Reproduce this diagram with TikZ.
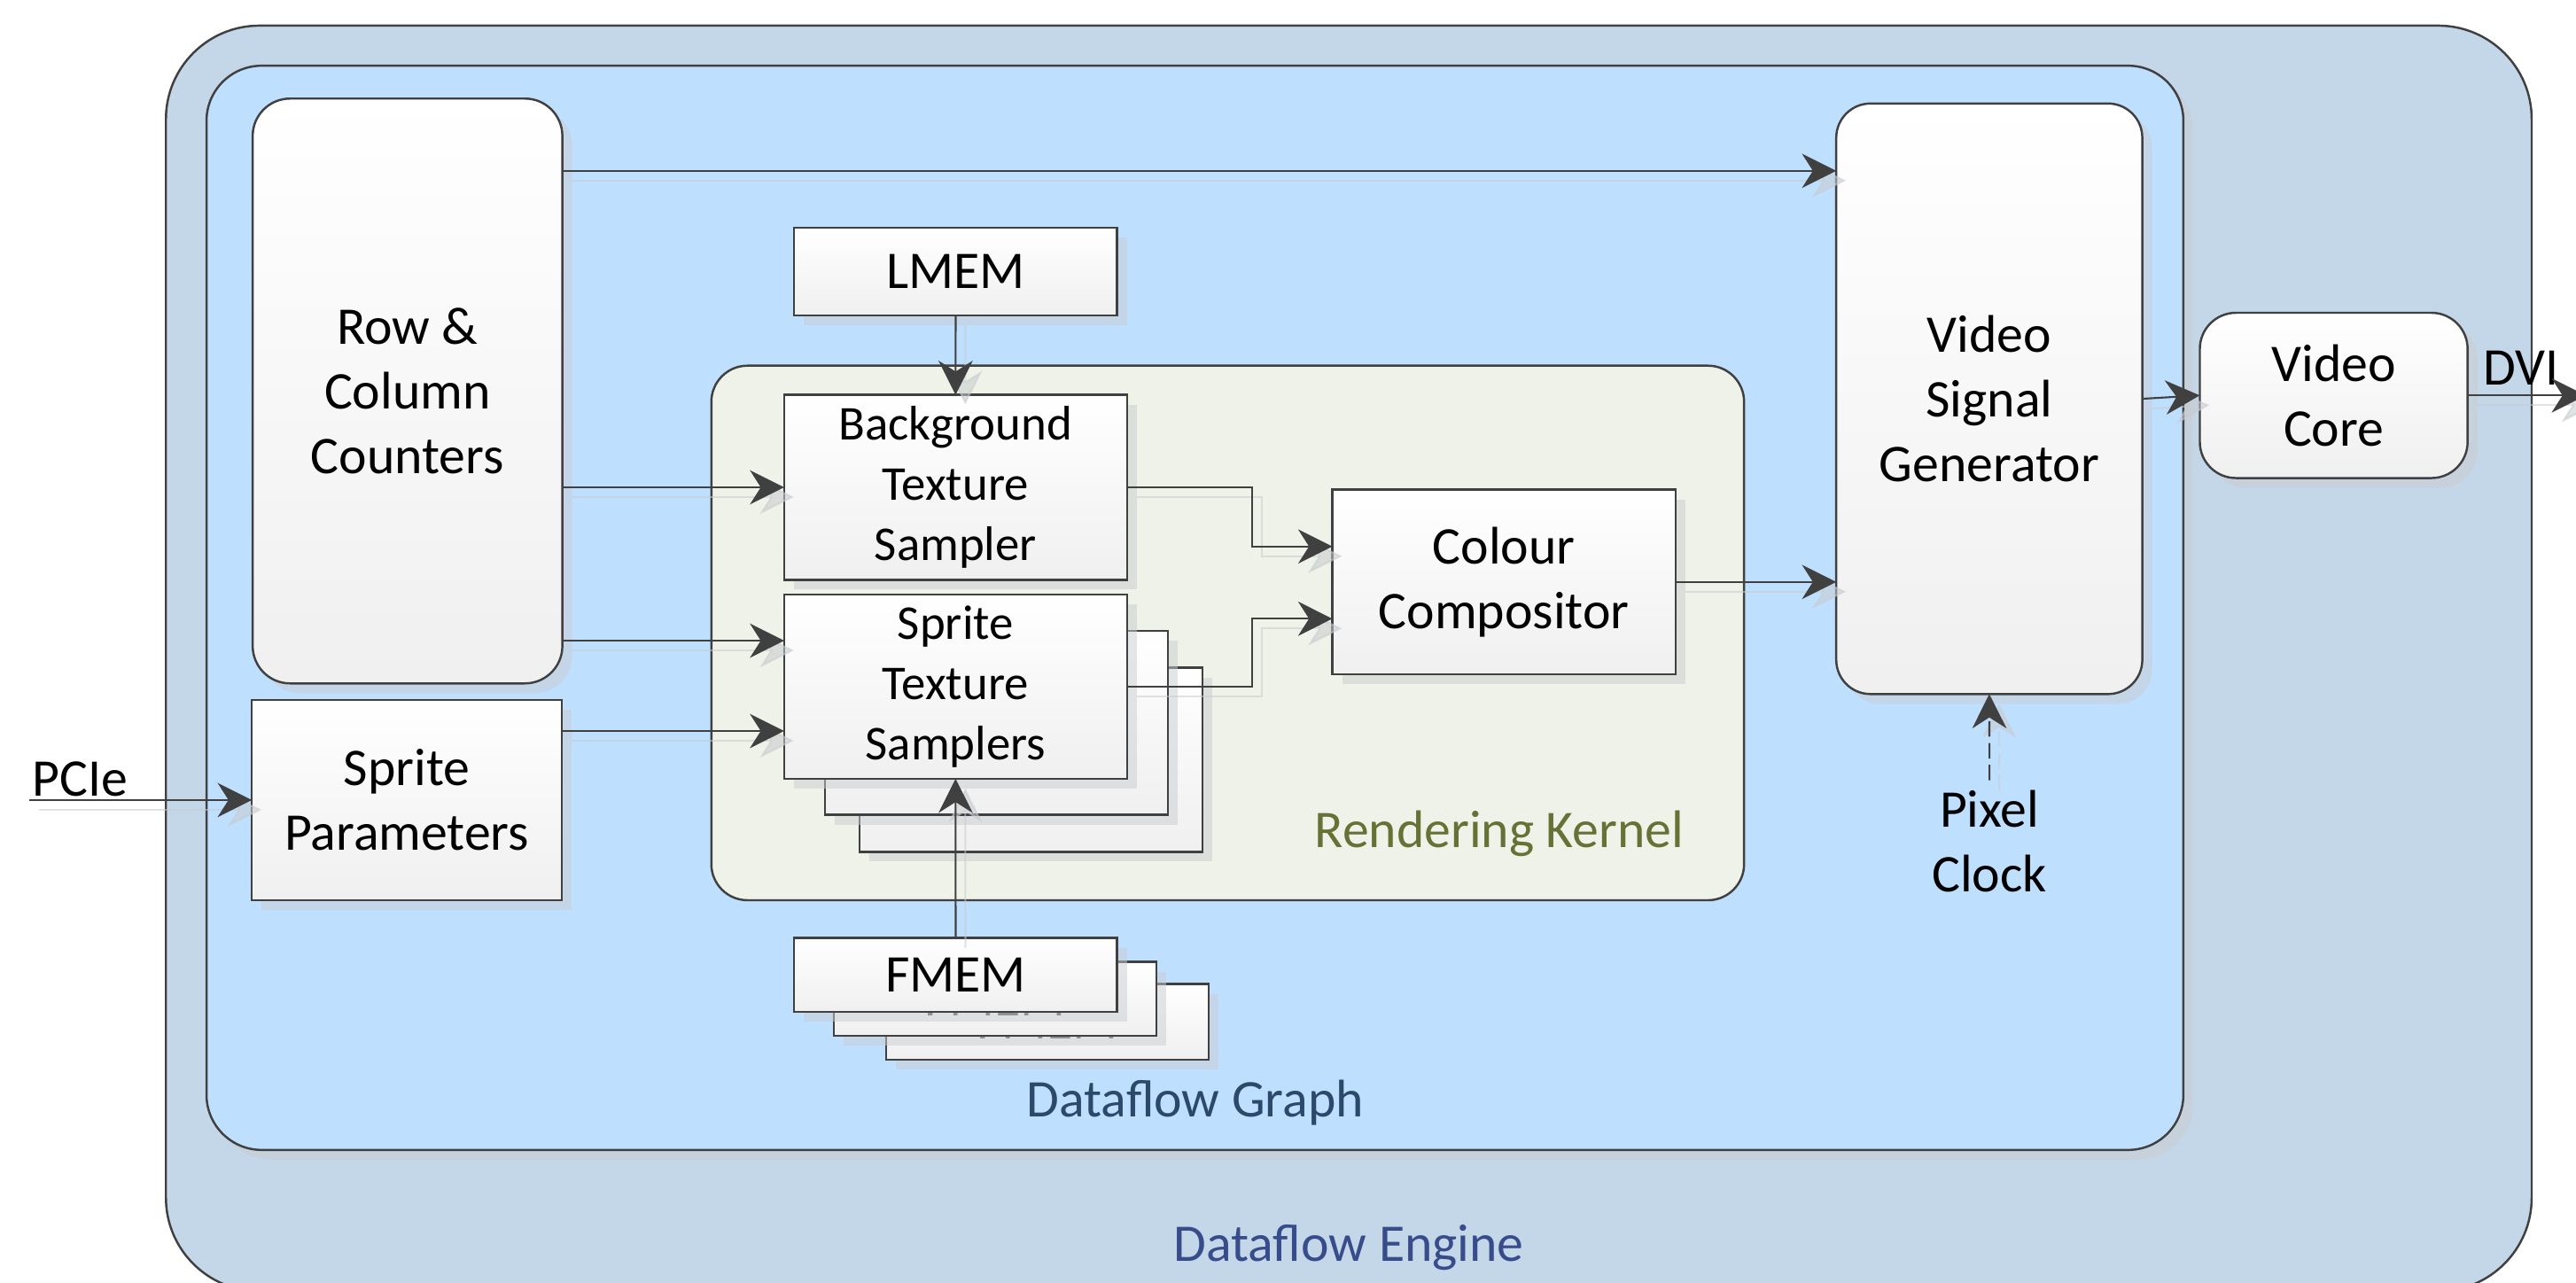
\documentclass[tikz,border=0pt]{standalone}
\usepackage{fontspec}
\setmainfont{Carlito}
\usetikzlibrary{arrows.meta,shadows,calc}
\definecolor{enginefill}{HTML}{C4D7E8}
\definecolor{graphfill}{HTML}{BFDFFF}
\definecolor{kernelfill}{HTML}{EFF2E8}
\definecolor{linec}{HTML}{404040}
\definecolor{shadowc}{HTML}{C8CCD0}
\definecolor{kernelc}{HTML}{657236}
\definecolor{graphc}{HTML}{2C486B}
\definecolor{enginec}{HTML}{384C8C}
\newcommand\pxu{0.01854cm}
\newcommand\boxnode[6]{\node[#1, minimum width={(#4-#2)*0.01854cm}, minimum height={(#5-#3)*0.01854cm}] (#6) at ({(#2+#4)/2},{(#3+#5)/2})}
\newcommand\connpath[2][]{\draw[conn,#1,cshadow] #2; \draw[conn,#1] #2;}
\tikzset{
  base/.style={draw=linec, line width=0.7pt, inner sep=2pt, outer sep=0pt, align=center, font=\fontsize{17}{20.7}\selectfont},
  shad/.style={drop shadow={shadow xshift=0.11cm, shadow yshift=-0.11cm, fill=shadowc, opacity=0.5}},
  blk/.style={base, top color=white, bottom color=black!6, shad},
  smallfont/.style={font=\fontsize{15.6}{19.4}\selectfont},
  conn/.style={draw=linec, line width=0.6pt, -{Stealth[length=11pt,width=11pt,inset=3.5pt]}},
  cshadow/.style={draw=shadowc, opacity=0.55, transform canvas={shift={(0.11cm,-0.11cm)}}},
  lbl/.style={anchor=base, inner sep=0pt, font=\fontsize{17}{20.7}\selectfont}
}
\begin{document}
\begin{tikzpicture}[x=0.01854cm, y=-0.01854cm]
\useasboundingbox (0,0) rectangle (1568,781);
\fill[white] (0,0) rectangle (1568,781);
% containers
\boxnode{base, fill=enginefill, rounded corners=30pt}{101}{15.6}{1541}{786}{engine} {};
\boxnode{base, fill=graphfill, rounded corners=17.7pt, shad}{125.7}{40}{1329}{700}{graph} {};
\boxnode{base, fill=kernelfill, rounded corners=11.6pt}{433}{222.6}{1061.6}{548}{kernel} {};
% blocks
\boxnode{blk, rounded corners=12pt}{153.8}{60}{342.3}{416}{rowcol} {Row \&\\Column\\Counters};
\boxnode{blk}{153.3}{426}{342}{548}{spritep} {Sprite\\Parameters};
\boxnode{blk}{483.4}{138.5}{680}{192}{lmem} {LMEM};
\boxnode{blk, smallfont}{477.3}{240.4}{686}{352.9}{bts} {Background\\Texture\\Sampler};
\boxnode{blk}{523.3}{406.5}{732}{518.5}{sts3} {};
\boxnode{blk}{502.3}{384}{711}{496}{sts2} {};
\boxnode{blk, smallfont}{477.3}{362}{686}{474}{sts} {Sprite\\Texture\\Samplers};
\boxnode{blk}{811}{298}{1020}{410.5}{cc} {Colour\\Compositor};
\boxnode{blk, text=black!65}{539.5}{599}{735.7}{645}{fmem3} {FMEM};
\boxnode{blk, text=black!65}{507.5}{585.6}{704}{630.5}{fmem2} {FMEM};
\boxnode{blk}{483.4}{571}{680}{616}{fmem} {FMEM};
\boxnode{blk, rounded corners=11pt}{1117.7}{63}{1304}{422.5}{vsg} {Video\\Signal\\Generator};
\boxnode{blk, rounded corners=11.6pt}{1339}{190.4}{1502}{291}{vcore} {Video\\Core};
% labels
\node[lbl, text=kernelc] (klbl) at (912.6,516) {Rendering Kernel};
\node[lbl, text=graphc] (glbl) at (727.5,680) {Dataflow Graph};
\node[lbl, text=enginec] (elbl) at (821,767.7) {Dataflow Engine};
\node[lbl, anchor=base west] (pcielbl) at (19.2,484.5) {PCIe};
\node[lbl, anchor=base west] (dvilbl) at (1511,234.6) {DVI};
\node[align=center, inner sep=3pt, font=\fontsize{17}{20.7}\selectfont] (pclk) at (1211,512) {Pixel\\Clock};
% connectors
\coordinate (pcie) at (18,487);
\coordinate (dviend) at (1574,240.7);
\coordinate (mx) at (762,0);
\coordinate (a1) at ([yshift=-44*\pxu]rowcol.north east);
\coordinate (s1) at ([yshift=28*\pxu]sts.west);
\coordinate (s2) at ([yshift=-27*\pxu]sts.west);
\coordinate (c1) at ([yshift=21.6*\pxu]cc.west);
\coordinate (c2) at ([yshift=-22.4*\pxu]cc.west);
\connpath{(a1) -- (a1 -| vsg.west)}
\connpath{(rowcol.east |- bts.west) -- (bts.west)}
\connpath{(rowcol.east |- s1) -- (s1)}
\connpath{(spritep.east |- s2) -- (s2)}
\connpath{(pcie) -- (spritep.west)}
\connpath{(lmem.south) -- (bts.north)}
\connpath{(fmem.north) -- (sts.south)}
\connpath{(bts.east) -- (bts.east -| mx) |- (c1)}
\connpath{(sts.east) -- (sts.east -| mx) |- (c2)}
\connpath{(cc.east) -- (cc.east -| vsg.west)}
\connpath{(vsg.east) -- (vcore.west)}
\connpath{(vcore.east) -- (dviend)}
\connpath[dash pattern=on 5pt off 2pt]{(pclk.north) -- (vsg.south)}
\end{tikzpicture}
\end{document}
